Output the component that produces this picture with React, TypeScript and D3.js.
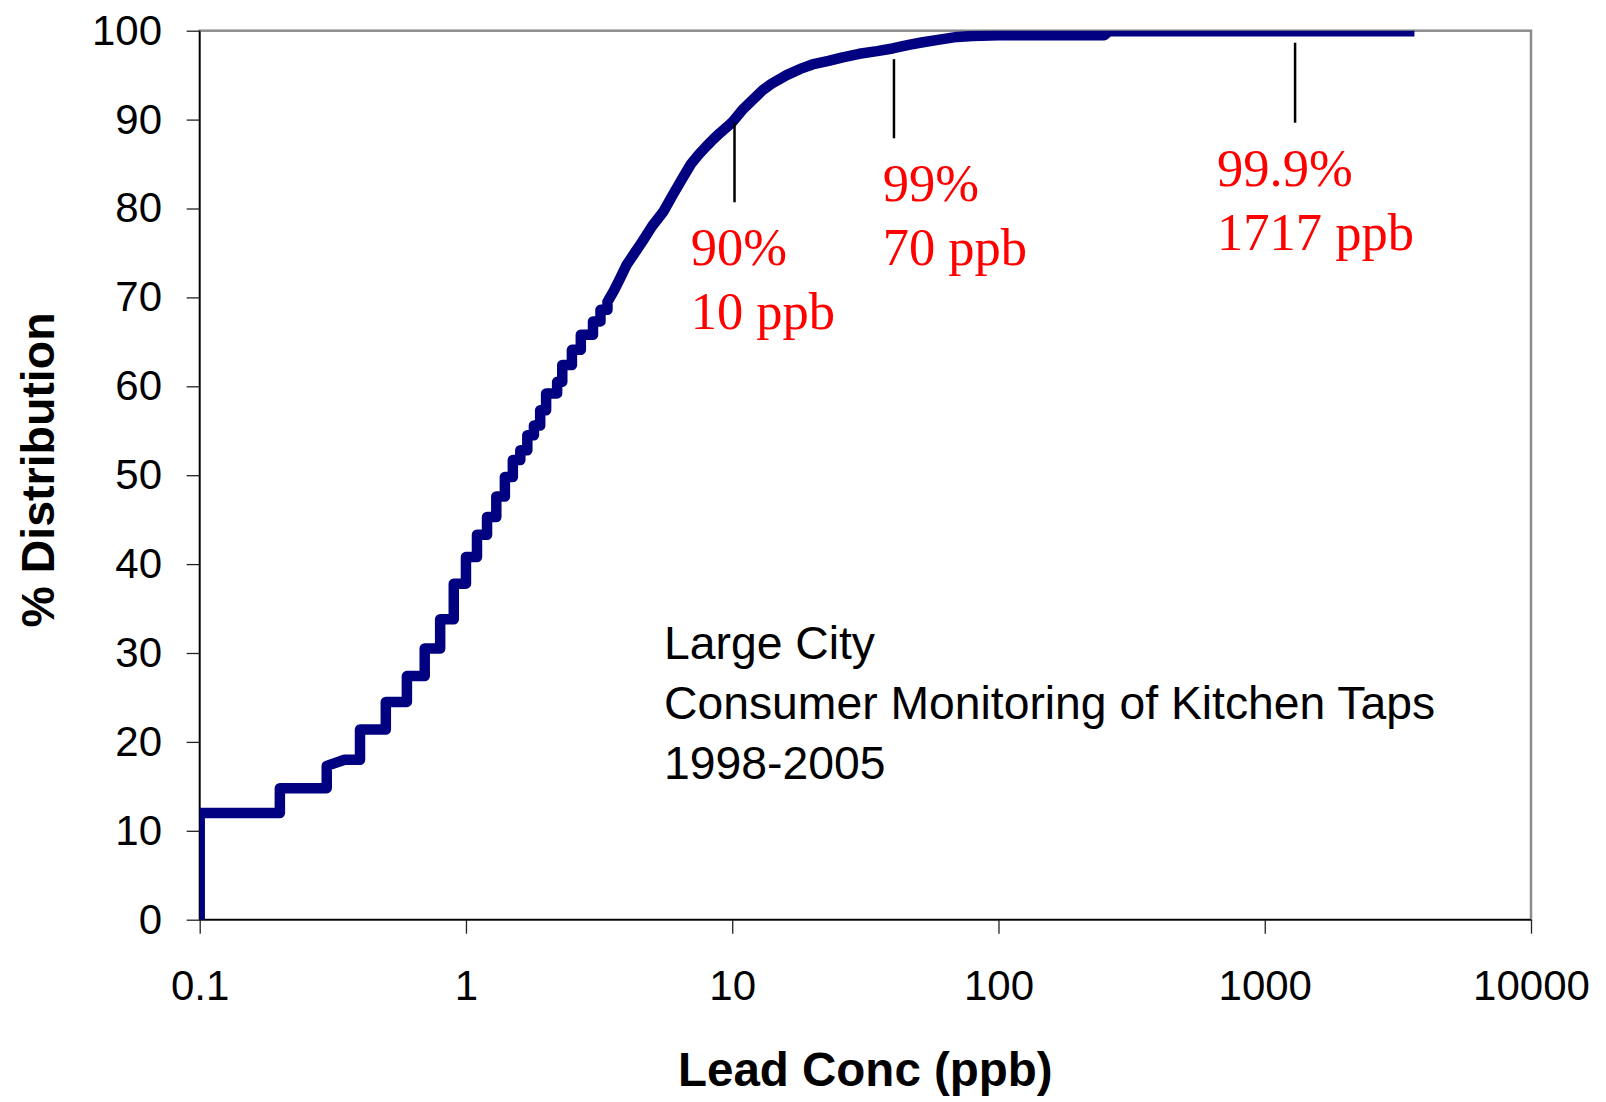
import React, { useEffect, useRef } from 'react'
import * as d3 from 'd3'

// cumulative distribution of lead readings
// (repeated concentrations give the vertical risers, like the original line chart)
const leadConc = [
    0.1, 0.1, 0.2, 0.2, 0.3, 0.3, 0.35, 0.4, 0.4, 0.5, 0.5, 0.6, 0.6, 0.7, 0.7, 0.8,
    0.8, 0.9, 0.9, 1.0, 1.0, 1.1, 1.1, 1.2, 1.2, 1.3, 1.3, 1.4, 1.4, 1.5, 1.5, 1.6,
    1.6, 1.7, 1.7, 1.8, 1.8, 1.9, 1.9, 2.0, 2.0, 2.2, 2.2, 2.3, 2.3, 2.5, 2.5, 2.7,
    2.7, 3.0, 3.0, 3.2, 3.2, 3.4, 3.4, 3.6, 3.8, 4.0, 4.3, 4.6, 5.0, 5.5, 6.0, 6.5,
    7.0, 7.5, 8.0, 8.5, 9.0, 9.5, 10, 11, 12, 13, 14, 16, 18, 20, 23, 26, 30, 35,
    40, 46, 52, 60, 70, 80, 100, 250, 260, 3650,
]
const pctDist = [
    0, 12.0, 12.0, 14.8, 14.8, 17.3, 18.0, 18.0, 21.4, 21.4, 24.5, 24.5, 27.4, 27.4, 30.5, 30.5,
    33.8, 33.8, 37.8, 37.8, 40.8, 40.8, 43.3, 43.3, 45.3, 45.3, 47.6, 47.6, 49.8, 49.8, 51.7, 51.7,
    52.8, 52.8, 54.5, 54.5, 55.6, 55.6, 57.3, 57.3, 59.2, 59.2, 60.5, 60.5, 62.4, 62.4, 64.1, 64.1,
    65.8, 65.8, 67.3, 67.3, 68.6, 68.6, 69.5, 70.8, 72.2, 73.6, 75.0, 76.3, 78.0, 79.6, 81.6, 83.4,
    85.0, 86.1, 87.0, 87.8, 88.5, 89.1, 89.7, 91.2, 92.3, 93.3, 94.0, 95.0, 95.7, 96.2, 96.6, 97.0, 97.4, 97.7,
    98.0, 98.4, 98.7, 99.0, 99.3, 99.4, 99.5, 99.5, 99.95, 99.95,
]

const xTicks = [0.1, 1, 10, 100, 1000, 10000]
const yTicks = [0, 10, 20, 30, 40, 50, 60, 70, 80, 90, 100]

// percentile callouts
const markerConc = [10.2, 40.5, 1300]
const markerTop = [89.6, 96.8, 98.65]
const markerBottom = [80.7, 87.9, 89.65]
const markerLabels = [
    ['90%', '10 ppb'],
    ['99%', '70 ppb'],
    ['99.9%', '1717 ppb'],
]
const noteLines = ['Large City', 'Consumer Monitoring of Kitchen Taps', '1998-2005']

const W = 1606
const H = 1102
const left = 199.7
const right = 1531
const top = 30.7
const bottom = 919.7
const sans = '"Liberation Sans", Arial, sans-serif'
const serif = '"Liberation Serif", "Times New Roman", serif'

// label anchors (x px, first baseline px) for each callout
const labelPos = [
    [690.7, 265],
    [882.7, 201],
    [1217, 185.5],
]

const XAxis = ({ scale }) => {
    const axis = useRef(null)
    useEffect(() => {
        const g = d3.select(axis.current)
        g.call(
            d3.axisBottom(scale)
                .tickValues(xTicks)
                .tickFormat(d => String(d))
                .tickSize(14)
                .tickPadding(36.5)
        )
        g.select('.domain').remove()
        g.selectAll('line').attr('stroke', '#222').attr('stroke-width', 1.3)
        g.selectAll('text')
            .attr('fill', '#000')
            .style('font-family', sans)
            .style('font-size', '42px')
    })
    return <g ref={axis} transform={`translate(0, ${bottom})`} />
}

const YAxis = ({ scale }) => {
    const axis = useRef(null)
    useEffect(() => {
        const g = d3.select(axis.current)
        g.call(
            d3.axisLeft(scale)
                .tickValues(yTicks)
                .tickSize(13)
                .tickPadding(24.7)
        )
        g.select('.domain').remove()
        g.selectAll('line').attr('stroke', '#222').attr('stroke-width', 1.3)
        g.selectAll('text')
            .attr('fill', '#000')
            .style('font-family', sans)
            .style('font-size', '42px')
    })
    return <g ref={axis} transform={`translate(${left}, 0)`} />
}

const App = () => {
    const x = d3.scaleLog().domain([0.1, 10000]).range([left, right])
    const y = d3.scaleLinear().domain([0, 100]).range([bottom, top])

    const points = leadConc.map((c, i) => [c, pctDist[i]])
    const line = d3
        .line()
        .x(d => x(d[0]))
        .y(d => y(d[1]))

    return (
        <svg
            width={W}
            height={H}
            style={{ position: 'absolute', left: 0, top: 0, background: '#fff' }}
        >
            <defs>
                <clipPath id='plot'>
                    <rect x={left} y={top} width={right - left} height={bottom - top} />
                </clipPath>
            </defs>

            {/* plot frame */}
            <rect
                x={left}
                y={top}
                width={right - left}
                height={bottom - top}
                fill='#fff'
                stroke='#8c8c8c'
                strokeWidth={2.5}
            />
            <line x1={left} x2={left} y1={top} y2={bottom} stroke='#000' strokeWidth={1.5} />
            <line x1={left} x2={right} y1={bottom} y2={bottom} stroke='#000' strokeWidth={1.5} />

            <path
                d={line(points)}
                fill='none'
                stroke='#000080'
                strokeWidth={10.5}
                strokeLinejoin='round'
                clipPath='url(#plot)'
            />

            {markerConc.map((c, i) => (
                <line
                    key={'m' + i}
                    x1={x(c)}
                    x2={x(c)}
                    y1={y(markerTop[i])}
                    y2={y(markerBottom[i])}
                    stroke='#000'
                    strokeWidth={2.5}
                />
            ))}

            {markerLabels.map((lines, i) => (
                <text
                    key={'l' + i}
                    x={labelPos[i][0]}
                    y={labelPos[i][1]}
                    fill='#ff0000'
                    fontFamily={serif}
                    fontSize={52.5}
                >
                    {lines.map((t, j) => (
                        <tspan key={j} x={labelPos[i][0]} dy={j === 0 ? 0 : 64}>
                            {t}
                        </tspan>
                    ))}
                </text>
            ))}

            <text x={664} y={658.6} fill='#000' fontFamily={sans} fontSize={46.3}>
                {noteLines.map((t, j) => (
                    <tspan key={j} x={664} dy={j === 0 ? 0 : 60.4}>
                        {t}
                    </tspan>
                ))}
            </text>

            <XAxis scale={x} />
            <YAxis scale={y} />

            <text
                x={(left + right) / 2}
                y={1085.6}
                textAnchor='middle'
                fontFamily={sans}
                fontWeight='bold'
                fontSize={47.5}
            >
                Lead Conc (ppb)
            </text>
            <text
                transform='translate(54, 470) rotate(-90)'
                textAnchor='middle'
                fontFamily={sans}
                fontWeight='bold'
                fontSize={46.5}
            >
                % Distribution
            </text>
        </svg>
    )
}

export default App
